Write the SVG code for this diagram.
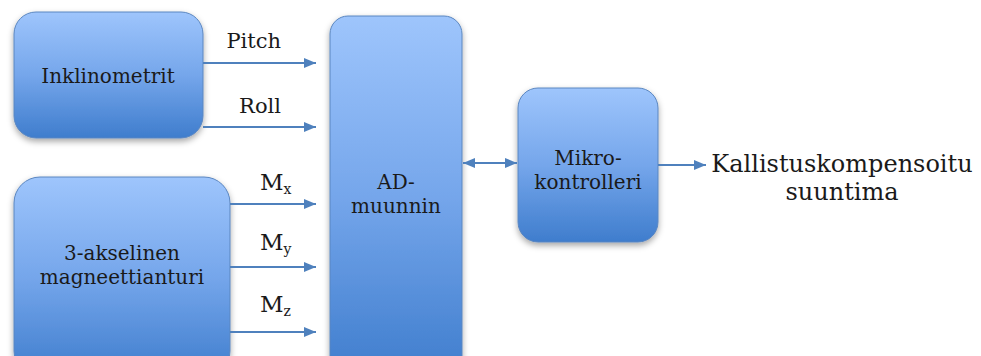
<svg xmlns="http://www.w3.org/2000/svg" width="981" height="356" viewBox="0 0 981 356">
<style>
.box{fill:url(#g);stroke:#5a86c0;stroke-width:1;filter:url(#sh)}
.t{font-family:"DejaVu Serif","Liberation Serif",serif;font-size:20px;fill:#1a1a1a;text-anchor:middle}
.l{font-family:"DejaVu Serif","Liberation Serif",serif;font-size:21px;fill:#1a1a1a}
.o{font-family:"DejaVu Serif","Liberation Serif",serif;font-size:24px;fill:#1a1a1a;text-anchor:middle}
.c{stroke:#4f81bd;stroke-width:2;fill:none}
</style>
<defs>
<linearGradient id="g" x1="0" y1="0" x2="0" y2="1">
<stop offset="0" stop-color="#9ec5fc"/>
<stop offset="0.5" stop-color="#75a6eb"/>
<stop offset="1" stop-color="#3f7dcd"/>
</linearGradient>
<filter id="sh" x="-20%" y="-20%" width="140%" height="140%">
<feDropShadow dx="0" dy="3" stdDeviation="3" flood-color="#000" flood-opacity="0.35"/>
</filter>
<marker id="ah" viewBox="0 0 12 10" refX="12" refY="5" markerWidth="6" markerHeight="5" orient="auto-start-reverse">
<path d="M0,0 L12,5 L0,10 z" fill="#4f81bd"/>
</marker>
</defs>
<rect width="981" height="356" fill="#fff"/>
<g id="inklinometrit">
<rect class="box" x="14" y="12" width="189" height="126" rx="22"/>
<text class="t" x="108" y="83">Inklinometrit</text>
</g>
<g id="magneettianturi">
<rect class="box" x="14" y="177" width="216" height="200" rx="26"/>
<text class="t" x="122" y="260">3-akselinen</text>
<text class="t" x="122" y="284">magneettianturi</text>
</g>
<g id="ad-muunnin">
<rect class="box" x="330" y="16" width="132" height="360" rx="18"/>
<text class="t" x="396" y="189">AD-</text>
<text class="t" x="396" y="213">muunnin</text>
</g>
<g id="mikrokontrolleri">
<rect class="box" x="518" y="88" width="140" height="154" rx="20"/>
<text class="t" x="588" y="165">Mikro-</text>
<text class="t" x="588" y="189">kontrolleri</text>
</g>
<g id="connectors">
<line class="c" x1="203" y1="63" x2="316" y2="63" marker-end="url(#ah)"/>
<line class="c" x1="203" y1="127" x2="316" y2="127" marker-end="url(#ah)"/>
<line class="c" x1="230" y1="204" x2="316" y2="204" marker-end="url(#ah)"/>
<line class="c" x1="230" y1="267" x2="316" y2="267" marker-end="url(#ah)"/>
<line class="c" x1="230" y1="332" x2="316" y2="332" marker-end="url(#ah)"/>
<line class="c" x1="463" y1="163" x2="517" y2="163" marker-start="url(#ah)" marker-end="url(#ah)"/>
<line class="c" x1="658" y1="165" x2="706" y2="165" marker-end="url(#ah)"/>
</g>
<g id="labels">
<text class="l" x="281" y="48" text-anchor="end">Pitch</text>
<text class="l" x="281" y="113" text-anchor="end">Roll</text>
<text class="l" x="260" y="190"><tspan font-size="23">M</tspan><tspan font-size="14" dy="4">x</tspan></text>
<text class="l" x="260" y="250"><tspan font-size="23">M</tspan><tspan font-size="14" dy="4">y</tspan></text>
<text class="l" x="260" y="312"><tspan font-size="23">M</tspan><tspan font-size="14" dy="4">z</tspan></text>
</g>
<g id="output">
<text class="o" x="842" y="172">Kallistuskompensoitu</text>
<text class="o" x="842" y="200">suuntima</text>
</g>
</svg>
